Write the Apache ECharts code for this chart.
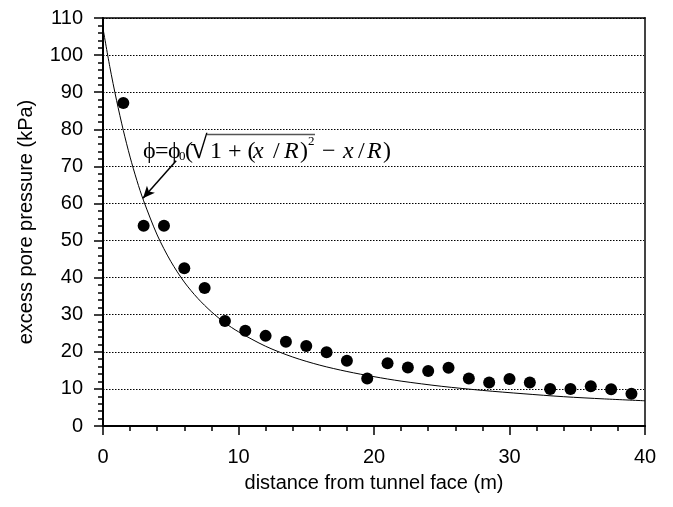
<!DOCTYPE html>
<html>
<head>
<meta charset="utf-8">
<script src="https://cdn.jsdelivr.net/npm/echarts@6/dist/echarts.min.js"></script>
<style>html,body{margin:0;padding:0;background:#fff;}#c{width:673px;height:507px;}</style>
</head>
<body>
<div id="c"></div>
<script>
// Measured points: distance from tunnel face (m) and excess pore pressure (kPa)
const measuredX = [1.5, 3, 4.5, 6, 7.5, 9, 10.5, 12, 13.5, 15, 16.5, 18, 19.5, 21, 22.5, 24, 25.5, 27, 28.5, 30, 31.5, 33, 34.5, 36, 37.5, 39];
const measuredY = [87.1, 54.0, 54.0, 42.5, 37.2, 28.3, 25.7, 24.3, 22.7, 21.6, 19.9, 17.6, 12.8, 16.9, 15.8, 14.8, 15.7, 12.8, 11.7, 12.7, 11.7, 10.0, 10.0, 10.7, 9.9, 8.7];
// Curve
const curveX = [0, 0.5, 1, 1.5, 2, 2.5, 3, 4, 5, 6, 7, 8, 9, 10, 12, 14, 16, 18, 20, 22, 25, 28, 31, 34, 37, 40];
const curveY = [107.2, 96.9, 87.8, 79.7, 72.5, 66.2, 60.7, 51.5, 44.4, 38.8, 34.4, 30.8, 27.8, 25.4, 21.5, 18.6, 16.4, 14.7, 13.3, 12.1, 10.7, 9.6, 8.7, 7.9, 7.3, 6.8];
const xTicks = [0, 10, 20, 30, 40];
const yTicks = [0, 10, 20, 30, 40, 50, 60, 70, 80, 90, 100, 110];
// annotation arrow (tail -> tip), in data units
const arrowFrom = [5.4, 71.5];
const arrowTo = [2.95, 61.4];

const chart = echarts.init(document.getElementById('c'), null, {renderer: 'canvas'});
const sans = 'Liberation Sans, Arial, sans-serif';
const serif = 'Liberation Serif, Times New Roman, serif';

// formula annotation pieces (text, left x, font size, italic, vertical centre)
const FS = 24, MID = 152;
function t(text, x, opts) {
  opts = opts || {};
  return {
    type: 'text', x: x, y: opts.y != null ? opts.y : MID, silent: true,
    style: {
      text: text, fill: '#000', fontFamily: serif,
      fontSize: opts.size || FS, fontStyle: opts.italic ? 'italic' : 'normal',
      align: 'left', verticalAlign: 'middle'
    }
  };
}
const formula = [
  t('ϕ', 143),
  t('=', 155),
  t('ϕ', 168),
  t('0', 179, {size: 13, y: 157}),
  t('(', 185),
  t('√', 190, {size: 32, y: 150}),
  t('1 + (', 210),
  t('x', 253, {italic: true}),
  t('/', 273),
  t('R', 284, {italic: true}),
  t(')', 300),
  t('2', 308, {size: 13, y: 142}),
  t('−', 322),
  t('x', 343, {italic: true}),
  t('/', 358),
  t('R', 367, {italic: true}),
  t(')', 383),
  {type: 'line', silent: true, shape: {x1: 207, y1: 134.5, x2: 315, y2: 134.5}, style: {stroke: '#555', lineWidth: 1.5}}
];

const option = {
  backgroundColor: '#fff',
  animation: false,
  grid: {left: 103, right: 28, top: 18, bottom: 81, containLabel: false},
  xAxis: [{
    type: 'value', min: xTicks[0], max: xTicks[xTicks.length - 1], interval: 10,
    name: 'distance from tunnel face (m)', nameLocation: 'middle', nameGap: 47,
    nameTextStyle: {fontFamily: sans, fontSize: 20, color: '#000'},
    axisLine: {show: true, onZero: false, lineStyle: {color: '#000', width: 2}},
    axisTick: {show: true, inside: false, length: 9, lineStyle: {color: '#000', width: 1.5}},
    minorTick: {show: true, splitNumber: 5, length: 5, lineStyle: {color: '#000', width: 1.5}},
    axisLabel: {fontFamily: sans, fontSize: 20, color: '#000', margin: 21},
    splitLine: {show: false}
  }, {
    type: 'value', position: 'top', min: 0, max: 40,
    axisLine: {show: true, onZero: false, lineStyle: {color: '#000', width: 1.5}},
    axisTick: {show: false}, axisLabel: {show: false}, splitLine: {show: false}
  }],
  yAxis: [{
    type: 'value', min: yTicks[0], max: yTicks[yTicks.length - 1], interval: 10,
    name: 'excess pore pressure (kPa)', nameLocation: 'middle', nameGap: 67,
    nameTextStyle: {fontFamily: sans, fontSize: 20, color: '#000'},
    axisLine: {show: true, onZero: false, lineStyle: {color: '#000', width: 2}},
    axisTick: {show: true, inside: false, length: 9, lineStyle: {color: '#000', width: 1.5}},
    minorTick: {show: true, splitNumber: 5, length: 5, lineStyle: {color: '#000', width: 1.5}},
    axisLabel: {fontFamily: sans, fontSize: 20, color: '#000', margin: 20},
    splitLine: {show: true, lineStyle: {color: '#000', width: 1, type: [1.5, 1.5]}}
  }, {
    type: 'value', position: 'right', min: 0, max: 110,
    axisLine: {show: true, onZero: false, lineStyle: {color: '#444', width: 2}},
    axisTick: {show: false}, axisLabel: {show: false}, splitLine: {show: false}
  }],
  series: [{
    type: 'line',
    data: curveX.map((x, i) => [x, curveY[i]]),
    smooth: 0.3,
    showSymbol: false,
    lineStyle: {color: '#000', width: 1},
    z: 2,
    markLine: {
      silent: true,
      symbol: ['none', 'arrow'],
      symbolSize: [8, 12],
      lineStyle: {color: '#000', width: 1.5, type: 'solid'},
      label: {show: false},
      data: [[{coord: arrowFrom}, {coord: arrowTo}]]
    }
  }, {
    type: 'scatter',
    data: measuredX.map((x, i) => [x, measuredY[i]]),
    symbol: 'circle',
    symbolSize: 12,
    itemStyle: {color: '#000', opacity: 1},
    z: 3
  }],
  graphic: formula
};
chart.setOption(option);
</script>
</body>
</html>
